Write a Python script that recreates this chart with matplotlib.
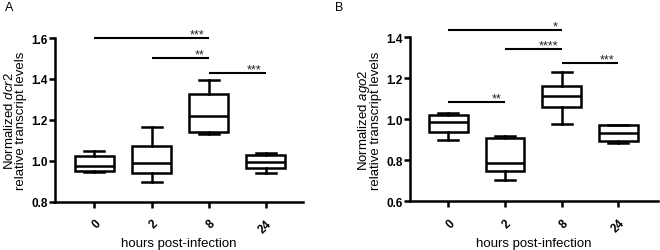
import matplotlib
matplotlib.use("Agg")
import matplotlib.pyplot as plt

plt.rcParams['font.family'] = ['Liberation Sans', 'DejaVu Sans']
plt.rcParams['mathtext.fontset'] = 'custom'
plt.rcParams['mathtext.rm'] = 'Liberation Sans'
plt.rcParams['mathtext.it'] = 'Liberation Sans:italic'

categories = ['0', '2', '8', '24']

# Panel A (dcr2)
a_whislo = [0.945, 0.895, 1.131, 0.938]
a_q1 = [0.948, 0.942, 1.141, 0.966]
a_med = [0.976, 0.989, 1.217, 0.992]
a_q3 = [1.025, 1.074, 1.328, 1.028]
a_whishi = [1.048, 1.167, 1.395, 1.036]
a_sig = [(0, 2, 1.598, '***'), (1, 2, 1.504, '**'), (2, 3, 1.429, '***')]

# Panel B (ago2)
b_whislo = [0.898, 0.704, 0.977, 0.885]
b_q1 = [0.940, 0.750, 1.060, 0.896]
b_med = [0.985, 0.785, 1.115, 0.932]
b_q3 = [1.021, 0.909, 1.161, 0.972]
b_whishi = [1.029, 0.920, 1.229, 0.974]
b_sig = [(0, 2, 1.437, '*'), (1, 2, 1.343, '****'), (2, 3, 1.273, '***'), (0, 1, 1.083, '**')]

fig = plt.figure(figsize=(6.6, 2.51), dpi=100)
axA = fig.add_axes([0.0826, 0.1924, 0.459 - 0.0826, 0.8446 - 0.1924])
axB = fig.add_axes([0.621, 0.194, 0.997 - 0.621, 0.847 - 0.194])

LW = 1.8

def draw(ax, lo, q1, med, q3, hi, sig, ylim, yticks, gene, xlim):
    stats = []
    for i in range(len(categories)):
        stats.append(dict(whislo=lo[i], q1=q1[i], med=med[i], q3=q3[i], whishi=hi[i], label=categories[i]))
    pos = list(range(1, len(categories) + 1))
    ax.bxp(stats, positions=pos, widths=0.68, capwidths=0.35, showfliers=False, patch_artist=True,
           boxprops=dict(facecolor='white', edgecolor='black', linewidth=LW),
           medianprops=dict(color='black', linewidth=LW),
           whiskerprops=dict(color='black', linewidth=LW),
           capprops=dict(color='black', linewidth=LW))
    for s in ['top', 'right']:
        ax.spines[s].set_visible(False)
    for s in ['left', 'bottom']:
        ax.spines[s].set_linewidth(LW)
    ax.set_ylim(*ylim)
    ax.set_xlim(*xlim)
    ax.set_yticks(yticks)
    ax.set_yticklabels([f'{v:.1f}' for v in yticks], fontsize=8.5, fontweight='bold')
    ax.set_xticks(pos)
    ax.set_xticklabels(categories, fontsize=8.5, fontweight='bold', rotation=45,
                       ha='right', va='top', rotation_mode='anchor')
    ax.tick_params(axis='y', length=4, width=LW, pad=1)
    ax.tick_params(axis='x', length=4, width=LW, pad=7)
    ax.set_ylabel('Normalized $\\mathit{' + gene + '}$\nrelative transcript levels', fontsize=9.5,
                  labelpad=3, linespacing=0.85)
    ax.set_xlabel('hours post-infection', fontsize=9.5, labelpad=2)
    for i, j, y, txt in sig:
        ax.plot([pos[i], pos[j]], [y, y], color='black', lw=1.5, clip_on=False,
                solid_capstyle='butt')
        ax.text(pos[j] - 0.07, y + (ylim[1] - ylim[0]) * 0.004, txt, ha='right', va='baseline',
                fontsize=9, color='#222222', clip_on=False)

draw(axA, a_whislo, a_q1, a_med, a_q3, a_whishi, a_sig, (0.8, 1.6), [0.8, 1.0, 1.2, 1.4, 1.6], 'dcr2', (0.3, 4.65))
draw(axB, b_whislo, b_q1, b_med, b_q3, b_whishi, b_sig, (0.6, 1.4), [0.6, 0.8, 1.0, 1.2, 1.4], 'ago2', (0.32, 4.7))

fig.text(5 / 660, 1 - 8 / 251, 'A', fontsize=9, ha='left', va='center')
fig.text(335 / 660, 1 - 8 / 251, 'B', fontsize=9, ha='left', va='center')

fig.savefig('out.png', dpi=100)
